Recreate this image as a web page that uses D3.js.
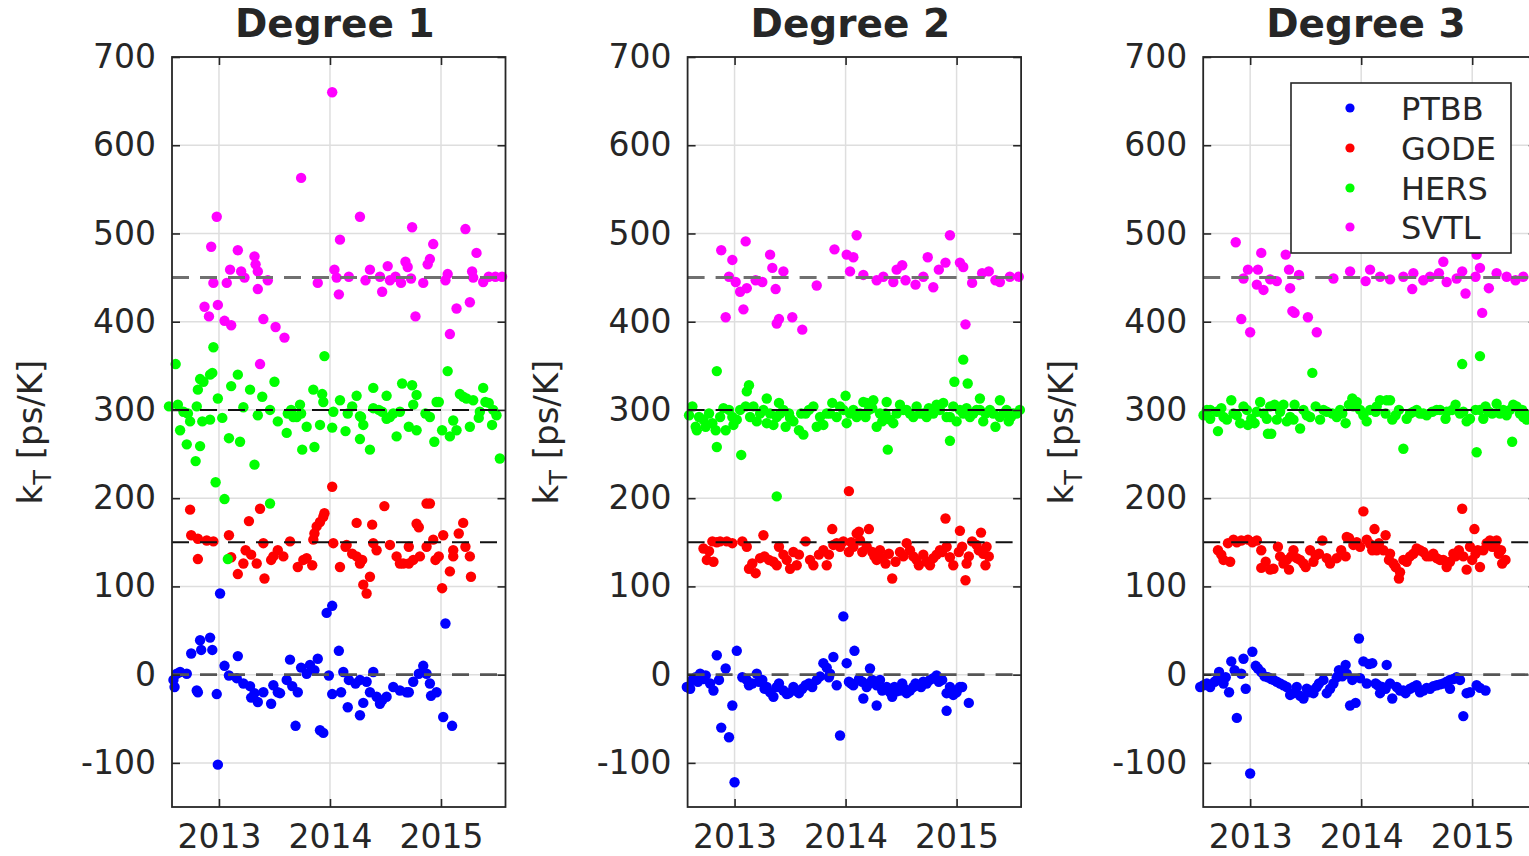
<!DOCTYPE html>
<html>
<head>
<meta charset="utf-8">
<script src="https://cdn.jsdelivr.net/npm/d3@7"></script>
<style>
  body { margin: 0; background: #fff; }
  svg { display: block; }
  text { font-family: "DejaVu Sans", sans-serif; fill: #262626; }
</style>
</head>
<body>
<svg id="chart" width="1529" height="856"></svg>
<script>
// Station names, panel titles and axis ticks
const stations = ["PTBB", "GODE", "HERS", "SVTL"];
const stationColors = ["#0000ff", "#ff0000", "#00ff00", "#ff00ff"];
const panelTitles = ["Degree 1", "Degree 2", "Degree 3"];
const referenceLevels = [0, 150, 300, 450];
const yTickValues = [-100, 0, 100, 200, 300, 400, 500, 600, 700];
const xTickValues = [2013, 2014, 2015];
const yDomain = [-150, 700];
const xDomain = [2012.577, 2015.581];

// Degree 1: [decimal year, kT in ps/K]
const d1PTBB = [[2013.01,92],[2013.97,70],[2014.02,78],[2015.04,58],[2012.75,24],[2012.83,39],[2012.92,42],[2012.94,28],[2012.84,28],[2013.17,21],[2013.05,10],[2014.08,27],[2013.64,17],[2013.74,8],[2013.82,11],[2013.89,18],[2012.59,-6],[2012.62,1],[2012.65,3],[2012.71,1],[2012.60,-14],[2012.80,-18],[2012.81,-20],[2012.98,-22],[2013.09,-1],[2013.16,-4],[2013.22,-10],[2013.28,-13],[2013.29,-26],[2013.35,-31],[2013.40,-20],[2013.47,-33],[2013.49,-12],[2013.55,-21],[2013.61,-6],[2013.66,-13],[2013.71,-20],[2013.69,-58],[2013.91,-63],[2013.94,-66],[2013.79,1],[2013.86,5],[2013.99,-1],[2014.02,-22],[2014.10,-20],[2014.12,3],[2014.17,-6],[2014.23,-10],[2014.27,-6],[2014.33,-8],[2014.39,3],[2014.16,-37],[2014.27,-46],[2014.30,-32],[2014.36,-20],[2014.42,-25],[2014.47,-29],[2014.51,-25],[2014.57,-14],[2014.63,-18],[2014.71,-20],[2014.75,-8],[2014.80,1],[2014.84,10],[2014.87,1],[2014.90,-10],[2014.91,-24],[2014.96,-20],[2015.02,-48],[2015.10,-58],[2012.99,-102],[2013.32,-21],[2013.53,-20],[2014.45,-33],[2014.69,-20]];
const d1GODE = [[2014.02,213],[2012.74,187],[2013.37,188],[2013.27,174],[2013.95,183],[2013.94,179],[2013.91,173],[2013.88,168],[2013.86,160],[2013.85,153],[2014.49,191],[2014.87,194],[2014.90,194],[2014.78,171],[2014.80,167],[2014.24,172],[2014.38,170],[2015.20,172],[2015.16,160],[2012.75,158],[2012.81,154],[2012.89,152],[2012.95,151],[2013.09,158],[2012.81,131],[2013.11,133],[2013.17,114],[2013.41,109],[2013.24,141],[2013.29,136],[2013.34,126],[2013.40,149],[2013.49,134],[2013.53,141],[2013.58,134],[2013.64,151],[2013.71,122],[2013.79,132],[2013.84,124],[2014.03,149],[2014.09,122],[2014.14,145],[2014.20,137],[2014.27,126],[2014.30,102],[2014.33,92],[2014.36,111],[2014.39,149],[2014.42,141],[2014.54,147],[2014.60,134],[2014.66,126],[2014.71,145],[2014.75,130],[2014.81,134],[2014.87,145],[2014.93,153],[2015.02,158],[2014.98,134],[2015.01,98],[2015.08,117],[2015.11,141],[2015.22,145],[2015.26,134],[2015.27,111],[2014.24,134],[2014.29,130],[2013.22,126],[2013.47,130],[2013.76,130],[2014.15,147],[2014.63,126],[2014.71,126],[2014.95,130],[2015.11,134]];
const d1HERS = [[2012.55,304],[2012.63,306],[2012.61,352],[2012.95,371],[2013.95,361],[2015.06,344],[2012.83,335],[2012.86,332],[2012.92,340],[2012.94,342],[2012.81,323],[2013.11,327],[2013.17,340],[2013.28,323],[2013.50,332],[2013.39,315],[2012.99,313],[2013.85,323],[2013.93,318],[2013.94,309],[2014.09,311],[2014.24,316],[2014.39,325],[2014.65,330],[2014.74,328],[2014.78,317],[2014.51,316],[2014.98,309],[2015.17,318],[2015.20,315],[2015.29,311],[2015.38,325],[2015.43,308],[2012.65,277],[2012.71,261],[2012.79,242],[2012.83,259],[2012.85,287],[2012.92,289],[2012.74,287],[2012.72,296],[2013.03,291],[2013.09,268],[2013.19,264],[2012.97,218],[2013.05,199],[2013.46,194],[2013.08,131],[2013.32,238],[2013.22,303],[2013.35,294],[2013.46,300],[2013.53,287],[2013.61,274],[2013.65,300],[2013.73,306],[2013.70,292],[2013.75,255],[2013.86,258],[2013.79,281],[2013.91,283],[2014.02,280],[2014.14,276],[2014.20,304],[2014.27,293],[2014.30,283],[2014.27,267],[2014.36,255],[2014.39,302],[2014.47,298],[2014.54,292],[2014.60,270],[2014.63,298],[2014.71,281],[2014.78,277],[2014.86,296],[2014.94,264],[2015.01,277],[2015.08,270],[2015.14,277],[2015.26,281],[2015.34,291],[2015.46,283],[2015.50,294],[2015.53,245],[2013.62,296],[2013.67,292],[2013.74,296],[2014.03,298],[2014.16,296],[2014.28,292],[2014.44,300],[2014.51,290],[2014.57,296],[2014.75,306],[2014.96,309],[2014.90,292],[2015.11,288],[2015.23,313],[2015.35,298],[2015.40,309],[2015.47,300],[2012.68,298],[2012.80,304]];
const d1SVTL = [[2014.02,660],[2013.74,563],[2012.98,519],[2014.27,519],[2014.74,507],[2015.22,505],[2012.93,485],[2014.09,493],[2014.93,488],[2013.17,481],[2015.32,478],[2013.32,474],[2013.33,465],[2013.10,459],[2013.20,457],[2013.35,457],[2013.23,450],[2012.95,444],[2013.07,444],[2013.44,447],[2013.35,437],[2013.89,444],[2014.04,459],[2014.06,450],[2014.08,431],[2014.17,451],[2014.32,447],[2014.36,459],[2014.45,451],[2014.47,434],[2014.52,463],[2014.54,447],[2014.59,451],[2014.64,444],[2014.68,468],[2014.70,462],[2014.73,449],[2014.84,444],[2014.88,465],[2014.90,471],[2015.04,447],[2015.06,454],[2015.28,457],[2015.29,450],[2015.38,445],[2015.43,451],[2015.49,451],[2015.55,451],[2012.87,417],[2012.91,406],[2012.99,419],[2013.05,401],[2013.11,396],[2013.40,403],[2013.51,394],[2013.59,382],[2014.77,406],[2015.14,415],[2015.26,422],[2015.08,386],[2013.37,352]];

// Degree 2
const d2PTBB = [[2013.98,66],[2013.02,27],[2012.84,22],[2012.92,7],[2014.08,27],[2014.01,13],[2013.89,20],[2013.80,13],[2013.86,1],[2014.22,7],[2012.98,-35],[2014.28,-35],[2014.91,-41],[2015.11,-32],[2012.88,-60],[2012.95,-71],[2013.95,-69],[2013.00,-122],[2014.16,-27],[2015.03,-14],[2014.97,-23],[2012.57,-14],[2012.62,-6],[2012.65,-3],[2012.69,1],[2012.74,-1],[2012.78,-10],[2012.81,-18],[2012.86,-6],[2013.07,-3],[2013.11,-6],[2013.16,-10],[2013.20,1],[2013.25,-6],[2013.29,-14],[2013.35,-25],[2013.40,-10],[2013.44,-18],[2013.49,-21],[2013.53,-14],[2013.58,-21],[2013.64,-12],[2013.70,-14],[2013.74,-6],[2013.85,-3],[2013.92,-12],[2014.03,-8],[2014.07,-12],[2014.15,-8],[2014.19,-14],[2014.24,-6],[2014.28,-12],[2014.33,-18],[2014.37,-14],[2014.42,-25],[2014.46,-19],[2014.51,-10],[2014.55,-21],[2014.61,-14],[2014.66,-12],[2014.70,-8],[2014.76,-6],[2014.82,-1],[2014.87,-6],[2014.91,-21],[2014.97,-18],[2015.05,-14],[2012.60,-16],[2014.31,-6],[2014.49,-18],[2012.67,-8],[2012.72,-5],[2013.13,-12],[2013.22,-8],[2013.27,-16],[2013.32,-20],[2013.38,-14],[2013.47,-22],[2013.55,-18],[2013.61,-16],[2013.67,-10],[2013.77,-2],[2013.83,8],[2014.05,-10],[2014.12,-5],[2014.21,-10],[2014.35,-16],[2014.40,-20],[2014.44,-14],[2014.53,-16],[2014.58,-18],[2014.63,-10],[2014.68,-14],[2014.73,-10],[2014.79,-4],[2014.84,-8],[2014.94,-14],[2015.00,-20]];
const d2GODE = [[2014.03,208],[2014.90,177],[2015.03,163],[2015.22,161],[2013.88,165],[2014.21,165],[2014.12,162],[2013.26,158],[2012.72,143],[2012.75,130],[2012.81,128],[2012.80,151],[2012.87,151],[2012.93,151],[2013.07,151],[2013.11,145],[2013.13,120],[2013.19,115],[2013.23,132],[2013.31,130],[2013.40,145],[2013.38,124],[2013.44,136],[2013.50,120],[2013.53,139],[2013.58,136],[2013.64,151],[2013.71,124],[2013.76,136],[2013.83,124],[2013.85,136],[2013.89,147],[2013.92,149],[2013.98,151],[2014.03,139],[2014.07,145],[2014.10,160],[2014.15,139],[2014.19,145],[2014.24,139],[2014.28,130],[2014.31,141],[2014.36,126],[2014.42,109],[2014.39,137],[2014.49,139],[2014.55,149],[2014.61,134],[2014.66,124],[2014.70,136],[2014.76,124],[2014.82,136],[2014.87,139],[2014.91,145],[2014.97,124],[2015.02,139],[2015.08,107],[2015.09,126],[2015.14,151],[2015.18,147],[2015.24,137],[2015.26,124],[2015.29,134],[2012.77,140],[2012.84,150],[2012.98,149],[2013.16,126],[2013.27,134],[2013.35,128],[2013.47,130],[2013.56,124],[2013.68,130],[2013.80,141],[2013.95,145],[2014.05,150],[2014.13,152],[2014.26,134],[2014.33,132],[2014.45,128],[2014.52,134],[2014.58,141],[2014.64,130],[2014.73,128],[2014.79,132],[2014.85,141],[2014.94,133],[2015.05,145],[2015.11,134],[2015.20,141],[2015.27,145]];
const d2HERS = [[2012.84,344],[2013.13,328],[2013.11,321],[2015.06,357],[2014.98,332],[2015.10,330],[2015.21,313],[2015.39,311],[2013.29,313],[2013.40,308],[2014.00,316],[2014.16,309],[2014.25,311],[2014.37,309],[2012.84,258],[2013.06,249],[2014.38,255],[2014.94,265],[2013.38,202],[2012.62,304],[2012.66,277],[2012.72,289],[2012.80,285],[2012.90,302],[2012.92,277],[2012.99,283],[2013.05,300],[2013.20,287],[2013.26,300],[2013.35,283],[2013.41,296],[2013.46,281],[2013.50,291],[2013.58,277],[2013.62,272],[2013.71,304],[2013.74,281],[2013.80,283],[2013.88,308],[2013.92,292],[2014.01,285],[2014.07,300],[2014.13,296],[2014.19,308],[2014.28,281],[2014.31,296],[2014.40,289],[2014.49,306],[2014.58,296],[2014.64,304],[2014.73,292],[2014.82,306],[2014.88,308],[2015.00,287],[2015.06,296],[2015.15,296],[2015.26,296],[2015.35,281],[2015.39,292],[2015.47,287],[2015.54,296],[2012.59,294],[2012.65,281],[2012.74,281],[2012.87,292],[2012.98,292],[2013.10,304],[2013.17,304],[2013.32,296],[2013.49,296],[2013.64,296],[2013.83,296],[2013.95,304],[2014.04,296],[2014.18,292],[2014.24,302],[2014.36,296],[2014.43,285],[2014.52,300],[2014.67,296],[2014.75,302],[2014.79,296],[2014.91,292],[2014.97,304],[2015.09,302],[2015.21,300],[2015.30,300],[2015.42,296],[2015.51,296],[2015.57,300],[2012.68,292],[2012.77,296],[2012.83,277],[2012.95,300],[2013.02,289],[2013.14,292],[2013.23,296],[2013.29,285],[2013.38,292],[2013.44,300],[2013.53,287],[2013.60,296],[2013.67,300],[2013.77,292],[2013.86,296],[2013.98,300],[2014.10,292],[2014.21,300],[2014.33,287],[2014.46,296],[2014.55,300],[2014.61,292],[2014.70,296],[2014.85,300],[2014.94,292],[2015.03,300],[2015.12,292],[2015.18,300],[2015.24,287],[2015.33,296],[2015.45,300],[2015.49,292]];
const d2SVTL = [[2014.10,498],[2014.94,498],[2013.10,491],[2012.88,481],[2012.98,470],[2013.32,476],[2013.90,482],[2014.01,476],[2014.07,473],[2013.34,461],[2013.44,457],[2014.74,473],[2015.03,467],[2015.06,462],[2014.90,467],[2014.84,459],[2014.51,464],[2014.46,459],[2012.95,451],[2013.01,445],[2013.05,434],[2013.11,438],[2013.19,447],[2013.25,445],[2013.37,437],[2013.74,441],[2014.04,457],[2014.16,453],[2014.28,447],[2014.34,451],[2014.43,445],[2014.54,447],[2014.63,442],[2014.70,451],[2014.79,439],[2015.14,444],[2015.23,455],[2015.29,457],[2015.35,447],[2015.39,445],[2015.48,451],[2015.56,451],[2012.92,405],[2013.08,414],[2013.38,398],[2013.40,403],[2013.52,405],[2013.61,391],[2015.08,397]];

// Degree 3
const d3PTBB = [[2013.98,41],[2013.02,26],[2012.94,18],[2012.83,15],[2014.02,15],[2014.10,13],[2014.23,11],[2013.86,11],[2013.80,5],[2013.07,7],[2012.92,1],[2012.72,3],[2012.88,-49],[2014.92,-47],[2013.00,-112],[2013.90,-35],[2013.95,-32],[2012.96,-16],[2014.28,-27],[2014.17,-21],[2012.58,-12],[2012.64,-14],[2012.68,-8],[2012.76,-10],[2012.81,-20],[2013.10,3],[2013.16,-3],[2013.21,-6],[2013.27,-10],[2013.33,-14],[2013.36,-23],[2013.42,-14],[2013.48,-27],[2013.53,-20],[2013.57,-21],[2013.62,-10],[2013.66,-6],[2013.69,-21],[2013.75,-10],[2013.78,-3],[2013.87,1],[2013.92,-6],[2013.99,-4],[2014.05,-10],[2014.13,-10],[2014.19,-14],[2014.26,-10],[2014.32,-14],[2014.38,-18],[2014.44,-16],[2014.50,-12],[2014.56,-18],[2014.62,-16],[2014.68,-12],[2014.74,-10],[2014.80,-6],[2014.86,-3],[2014.89,-6],[2014.95,-21],[2015.04,-12],[2015.12,-18],[2012.55,-14],[2013.24,-8],[2013.56,-18],[2013.72,-16],[2014.40,-21],[2014.53,-20],[2014.80,-16],[2012.61,-10],[2012.70,-6],[2012.78,-3],[2012.86,5],[2013.05,10],[2013.13,-2],[2013.19,-5],[2013.30,-12],[2013.39,-21],[2013.45,-24],[2013.51,-16],[2013.60,-14],[2013.83,-2],[2014.07,12],[2014.15,-12],[2014.22,-16],[2014.35,-18],[2014.47,-14],[2014.59,-15],[2014.65,-13],[2014.71,-11],[2014.77,-8],[2014.83,-5],[2014.98,-20],[2015.07,-15]];
const d3GODE = [[2014.02,185],[2014.91,188],[2015.02,165],[2014.12,165],[2014.22,158],[2013.87,156],[2012.71,141],[2012.76,130],[2012.82,128],[2012.80,149],[2012.85,153],[2012.92,152],[2012.98,153],[2013.06,152],[2013.10,141],[2013.10,121],[2013.18,119],[2013.25,145],[2013.27,134],[2013.33,130],[2013.35,119],[2013.39,141],[2013.42,132],[2013.48,126],[2013.50,122],[2013.54,141],[2013.59,135],[2013.65,152],[2013.72,126],[2013.78,132],[2013.86,134],[2013.89,155],[2013.93,147],[2013.99,145],[2014.05,153],[2014.10,141],[2014.16,149],[2014.20,141],[2014.25,130],[2014.26,137],[2014.29,126],[2014.34,109],[2014.35,116],[2014.38,130],[2014.44,134],[2014.50,143],[2014.56,139],[2014.62,134],[2014.68,132],[2014.74,130],[2014.77,122],[2014.83,137],[2014.88,141],[2014.92,134],[2014.95,119],[2014.98,145],[2015.03,137],[2015.07,122],[2015.10,141],[2015.13,149],[2015.16,152],[2015.21,145],[2015.24,137],[2015.27,126],[2015.30,130],[2015.22,152],[2012.74,136],[2012.88,150],[2013.02,150],[2013.14,128],[2013.21,120],[2013.30,126],[2013.37,134],[2013.45,130],[2013.57,128],[2013.62,137],[2013.69,132],[2013.82,141],[2013.96,150],[2014.08,148],[2014.14,141],[2014.31,122],[2014.41,128],[2014.47,137],[2014.53,141],[2014.59,134],[2014.65,137],[2014.71,130],[2014.80,128],[2014.85,134],[2015.00,130],[2015.05,141],[2015.18,145],[2015.26,141]];
const d3HERS = [[2015.07,361],[2014.91,352],[2013.56,342],[2014.38,256],[2015.04,252],[2015.36,264],[2012.71,276],[2013.16,273],[2013.19,273],[2012.58,294],[2012.64,290],[2012.70,298],[2012.76,292],[2012.83,311],[2012.85,296],[2012.91,285],[2012.97,300],[2013.01,290],[2013.09,309],[2013.12,296],[2013.18,304],[2013.24,289],[2013.30,306],[2013.36,292],[2013.40,306],[2013.45,279],[2013.51,294],[2013.59,304],[2013.63,289],[2013.69,298],[2013.78,292],[2013.86,285],[2013.92,313],[2013.96,309],[2014.02,294],[2014.08,300],[2014.17,311],[2014.26,311],[2014.28,289],[2014.34,300],[2014.44,296],[2014.50,300],[2014.59,294],[2014.68,300],[2014.76,290],[2014.85,306],[2014.89,296],[2014.95,287],[2015.03,300],[2015.12,304],[2015.18,296],[2015.22,307],[2015.31,294],[2015.37,306],[2015.43,296],[2015.49,289],[2012.64,300],[2012.79,289],[2012.98,283],[2013.04,285],[2013.33,287],[2013.81,300],[2013.89,306],[2014.14,304],[2014.22,296],[2014.41,290],[2014.56,296],[2014.77,298],[2015.10,290],[2015.28,300],[2015.45,300],[2015.51,294],[2012.61,300],[2012.74,302],[2012.88,294],[2012.94,304],[2013.06,298],[2013.15,290],[2013.22,306],[2013.27,298],[2013.39,289],[2013.48,300],[2013.54,292],[2013.66,300],[2013.74,296],[2013.83,296],[2013.93,304],[2013.99,300],[2014.05,287],[2014.13,298],[2014.23,311],[2014.31,294],[2014.47,298],[2014.53,296],[2014.64,298],[2014.71,300],[2014.82,300],[2014.92,298],[2014.98,290],[2015.07,300],[2015.15,298],[2015.25,296],[2015.34,300],[2015.40,304],[2015.46,292]];
const d3SVTL = [[2012.87,490],[2013.10,478],[2013.32,476],[2015.04,476],[2014.74,468],[2015.07,461],[2012.98,459],[2013.07,459],[2013.35,459],[2013.44,453],[2013.90,457],[2014.08,459],[2012.94,449],[2013.18,448],[2013.24,446],[2013.75,449],[2014.04,446],[2014.17,451],[2014.26,448],[2014.38,451],[2014.47,455],[2014.56,447],[2014.62,451],[2014.70,455],[2014.77,445],[2014.86,449],[2014.91,457],[2015.03,451],[2015.22,455],[2015.31,451],[2015.39,447],[2015.46,451],[2013.06,442],[2013.12,436],[2013.36,438],[2014.46,437],[2014.94,432],[2015.15,438],[2012.92,403],[2013.00,388],[2013.38,412],[2013.40,410],[2013.52,405],[2013.60,388],[2015.09,410]];

const panelSeries = [
  [d1PTBB, d1GODE, d1HERS, d1SVTL],
  [d2PTBB, d2GODE, d2HERS, d2SVTL],
  [d3PTBB, d3GODE, d3HERS, d3SVTL]
];

// Layout
const panelLeft = [172, 687.6, 1203.2];
const panelWidth = 333.5;
const plotTop = 57, plotBottom = 807;
const axisColor = "#262626";
const levelStyle = {
  0:   { stroke: "#555555", width: 2.6 },
  150: { stroke: "#111111", width: 2 },
  300: { stroke: "#111111", width: 2 },
  450: { stroke: "#707070", width: 3 }
};

const svg = d3.select("#chart");
const y = d3.scaleLinear().domain(yDomain).range([plotBottom, plotTop]);

panelTitles.forEach((title, i) => {
  const x0 = panelLeft[i], x1 = x0 + panelWidth;
  const x = d3.scaleLinear().domain(xDomain).range([x0, x1]);
  const g = svg.append("g");

  // grid
  g.append("g").selectAll("line").data(xTickValues).join("line")
    .attr("x1", d => x(d)).attr("x2", d => x(d))
    .attr("y1", plotTop).attr("y2", plotBottom)
    .attr("stroke", "#dedede").attr("stroke-width", 1.5);
  g.append("g").selectAll("line").data(yTickValues).join("line")
    .attr("x1", x0).attr("x2", x1)
    .attr("y1", d => y(d)).attr("y2", d => y(d))
    .attr("stroke", "#dedede").attr("stroke-width", 1.5);

  // station markers
  panelSeries[i].forEach((pts, s) => {
    g.append("g").selectAll("circle").data(pts).join("circle")
      .attr("cx", d => x(d[0]))
      .attr("cy", d => y(d[1]))
      .attr("r", 5.2)
      .attr("fill", stationColors[s]);
  });

  // reference levels
  g.append("g").selectAll("line").data(referenceLevels).join("line")
    .attr("x1", x0).attr("x2", x1)
    .attr("y1", d => y(d)).attr("y2", d => y(d))
    .attr("stroke", d => levelStyle[d].stroke)
    .attr("stroke-width", d => levelStyle[d].width)
    .attr("stroke-dasharray", "17,11");

  // axes with inward ticks
  const styleAxis = sel => {
    sel.select(".domain").remove();
    sel.selectAll(".tick line").attr("stroke", axisColor).attr("stroke-width", 1.6);
    sel.selectAll(".tick text").attr("fill", "#333333")
      .style("font-family", '"DejaVu Sans", sans-serif').style("font-size", "33px");
  };
  g.append("g").attr("transform", `translate(${x0},0)`)
    .call(d3.axisLeft(y).tickValues(yTickValues).tickSize(-8).tickSizeOuter(0).tickPadding(16).tickFormat(d => String(d)))
    .call(styleAxis);
  g.append("g").attr("transform", `translate(${x1},0)`)
    .call(d3.axisRight(y).tickValues(yTickValues).tickSize(-8).tickSizeOuter(0).tickFormat(""))
    .call(styleAxis);
  g.append("g").attr("transform", `translate(0,${plotBottom})`)
    .call(d3.axisBottom(x).tickValues(xTickValues).tickSize(-8).tickSizeOuter(0).tickPadding(18).tickFormat(d3.format("d")))
    .call(styleAxis);
  g.append("g").attr("transform", `translate(0,${plotTop})`)
    .call(d3.axisTop(x).tickValues(xTickValues).tickSize(-8).tickSizeOuter(0).tickFormat(""))
    .call(styleAxis);

  // frame
  g.append("rect")
    .attr("x", x0).attr("y", plotTop)
    .attr("width", panelWidth).attr("height", plotBottom - plotTop)
    .attr("fill", "none").attr("stroke", axisColor).attr("stroke-width", 1.8);

  // title
  g.append("text")
    .attr("x", (x0 + x1) / 2 - 4).attr("y", 37)
    .attr("text-anchor", "middle")
    .style("font-size", "39px").style("font-weight", "bold")
    .attr("fill", "#000")
    .text(title);

  // y label: k_T [ps/K]
  const yl = g.append("text")
    .attr("transform", `translate(${x0 - 130},432) rotate(-90)`)
    .attr("text-anchor", "middle")
    .style("font-size", "34px");
  yl.append("tspan").text("k");
  yl.append("tspan").attr("dy", 9).style("font-size", "24px").text("T");
  yl.append("tspan").attr("dy", -9).text(" [ps/K]");
});

// legend in the last panel
const legend = svg.append("g");
legend.append("rect")
  .attr("x", 1291).attr("y", 83).attr("width", 220).attr("height", 170)
  .attr("fill", "#fff").attr("stroke", axisColor).attr("stroke-width", 1.6);
const legendRows = [108, 148, 188, 227];
stations.forEach((name, s) => {
  legend.append("circle").attr("cx", 1350).attr("cy", legendRows[s]).attr("r", 4.6).attr("fill", stationColors[s]);
  legend.append("text").attr("x", 1401).attr("y", legendRows[s]).attr("dy", "0.36em")
    .style("font-size", "32px").text(name);
});
</script>
</body>
</html>
